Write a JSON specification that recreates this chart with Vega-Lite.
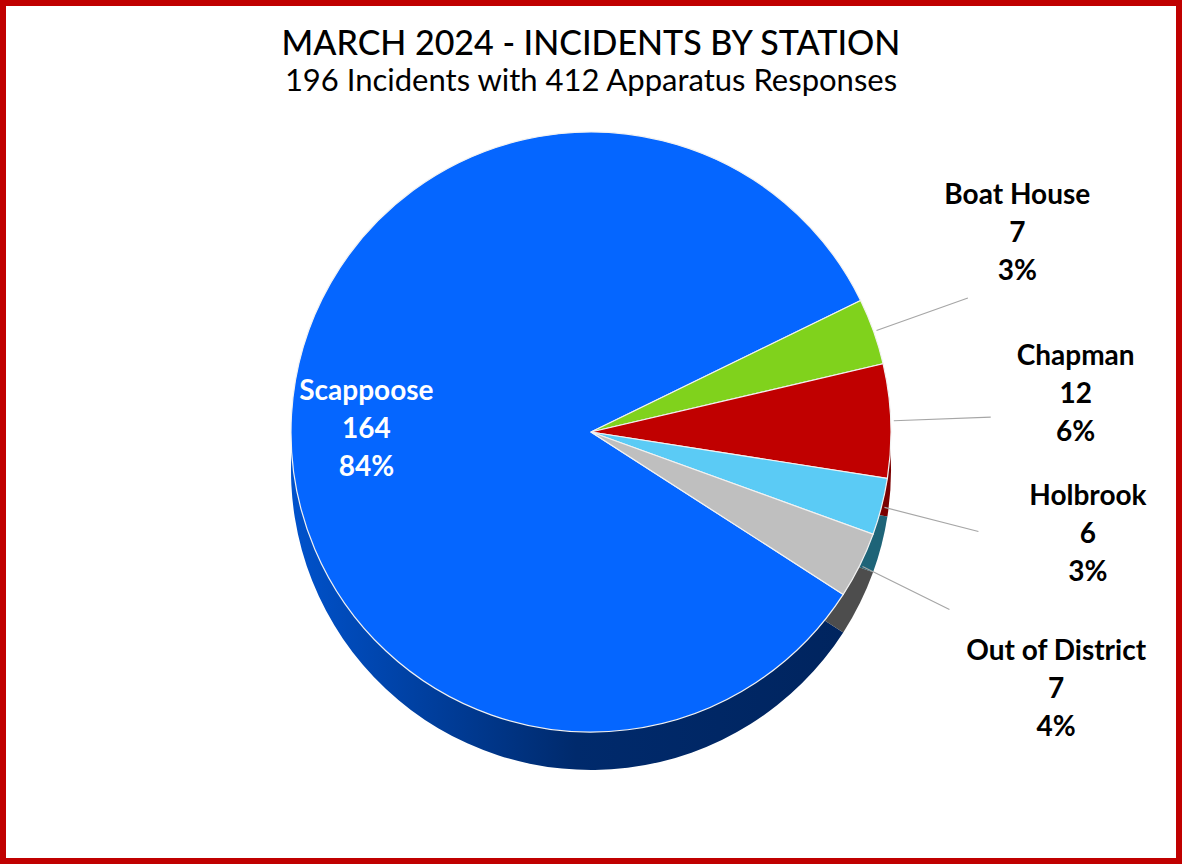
{
  "$schema": "https://vega.github.io/schema/vega-lite/v6.json",
  "width": 1182,
  "height": 864,
  "autosize": {"type": "fit", "contains": "padding"},
  "padding": 0,
  "background": "#FFFFFF",
  "config": {
    "view": {"stroke": null},
    "font": "Lato"
  },
  "title": {
    "text": "MARCH 2024 - INCIDENTS BY STATION",
    "subtitle": "196 Incidents with 412 Apparatus Responses",
    "anchor": "middle",
    "offset": -97,
    "font": "Lato",
    "fontSize": 34,
    "fontWeight": 500,
    "color": "#000000",
    "subtitleFont": "Lato",
    "subtitleFontSize": 31,
    "subtitleFontWeight": 400,
    "subtitleColor": "#000000",
    "subtitlePadding": 5
  },
  "data": {
    "values": [
      {"station": "Scappoose", "count": 164, "label": "Scappoose\n164\n84%"},
      {"station": "Boat House", "count": 7, "label": "Boat House\n7\n3%"},
      {"station": "Chapman", "count": 12, "label": "Chapman\n12\n6%"},
      {"station": "Holbrook", "count": 6, "label": "Holbrook\n6\n3%"},
      {"station": "Out of District", "count": 7, "label": "Out of District\n7\n4%"}
    ]
  },
  "layer": [
    {
      "mark": {"type": "rect", "filled": false, "stroke": "#C00000", "strokeWidth": 6},
      "encoding": {}
    },
    {
      "mark": {"type": "arc", "radius": 300, "yOffset": 38},
      "encoding": {
        "theta": {"field": "count", "type": "quantitative", "stack": true, "scale": {"range": [1.117, 7.4]}},
        "fill": {
          "field": "station",
          "type": "nominal",
          "legend": null,
          "scale": {
            "domain": ["Boat House", "Chapman", "Holbrook", "Out of District", "Scappoose"],
            "range": ["#4F8A12", "#7A0000", "#1E6478", "#4D4D4D", "#00296A"]
          },
          "condition": {
            "test": "datum.station === 'Scappoose'",
            "value": {
              "gradient": "linear",
              "x1": 0, "y1": 0, "x2": 1, "y2": 0,
              "stops": [
                {"offset": 0, "color": "#0052CC"},
                {"offset": 0.5, "color": "#002A6C"},
                {"offset": 1, "color": "#00245E"}
              ]
            }
          }
        }
      }
    },
    {
      "mark": {"type": "arc", "radius": 300, "stroke": "#F2F2F2", "strokeWidth": 1.2},
      "encoding": {
        "theta": {"field": "count", "type": "quantitative", "stack": true, "scale": {"range": [1.117, 7.4]}},
        "color": {
          "field": "station",
          "type": "nominal",
          "legend": null,
          "scale": {
            "domain": ["Boat House", "Chapman", "Holbrook", "Out of District", "Scappoose"],
            "range": ["#80D21C", "#C00000", "#5BCBF5", "#BFBFBF", "#0566FF"]
          }
        }
      }
    },
    {
      "mark": {"type": "arc", "radius": 400, "radius2": 303, "padAngle": 1.0, "fillOpacity": 0, "stroke": "#A6A6A6", "strokeWidth": 1.2},
      "encoding": {
        "theta": {"field": "count", "type": "quantitative", "stack": true, "scale": {"range": [1.117, 7.4]}},
        "detail": {"field": "station", "type": "nominal"},
        "strokeOpacity": {"condition": {"test": "datum.station === 'Scappoose'", "value": 0}, "value": 1}
      }
    },
    {
      "mark": {"type": "text", "radius": 480, "dx": -26, "dy": -75, "lineBreak": "\n", "lineHeight": 38, "font": "Lato", "fontSize": 28, "fontWeight": "bold", "color": "#000000", "align": "center", "baseline": "middle"},
      "encoding": {
        "theta": {"field": "count", "type": "quantitative", "stack": true, "scale": {"range": [1.117, 7.4]}},
        "detail": {"field": "station", "type": "nominal"},
        "text": {"field": "label", "type": "nominal", "condition": {"test": "datum.station !== 'Boat House'", "value": ""}}
      }
    },
    {
      "mark": {"type": "text", "radius": 480, "dx": 5, "dy": -57, "lineBreak": "\n", "lineHeight": 38, "font": "Lato", "fontSize": 28, "fontWeight": "bold", "color": "#000000", "align": "center", "baseline": "middle"},
      "encoding": {
        "theta": {"field": "count", "type": "quantitative", "stack": true, "scale": {"range": [1.117, 7.4]}},
        "detail": {"field": "station", "type": "nominal"},
        "text": {"field": "label", "type": "nominal", "condition": {"test": "datum.station !== 'Chapman'", "value": ""}}
      }
    },
    {
      "mark": {"type": "text", "radius": 480, "dx": 32, "dy": -54, "lineBreak": "\n", "lineHeight": 38, "font": "Lato", "fontSize": 28, "fontWeight": "bold", "color": "#000000", "align": "center", "baseline": "middle"},
      "encoding": {
        "theta": {"field": "count", "type": "quantitative", "stack": true, "scale": {"range": [1.117, 7.4]}},
        "detail": {"field": "station", "type": "nominal"},
        "text": {"field": "label", "type": "nominal", "condition": {"test": "datum.station !== 'Holbrook'", "value": ""}}
      }
    },
    {
      "mark": {"type": "text", "radius": 480, "dx": 35, "dy": 7, "lineBreak": "\n", "lineHeight": 38, "font": "Lato", "fontSize": 28, "fontWeight": "bold", "color": "#000000", "align": "center", "baseline": "middle"},
      "encoding": {
        "theta": {"field": "count", "type": "quantitative", "stack": true, "scale": {"range": [1.117, 7.4]}},
        "detail": {"field": "station", "type": "nominal"},
        "text": {"field": "label", "type": "nominal", "condition": {"test": "datum.station !== 'Out of District'", "value": ""}}
      }
    },
    {
      "mark": {"type": "text", "radius": 225, "dy": -27, "lineBreak": "\n", "lineHeight": 38, "font": "Lato", "fontSize": 28, "fontWeight": "bold", "color": "#FFFFFF", "align": "center", "baseline": "middle"},
      "encoding": {
        "theta": {"field": "count", "type": "quantitative", "stack": true, "scale": {"range": [1.117, 7.4]}},
        "detail": {"field": "station", "type": "nominal"},
        "text": {"field": "label", "type": "nominal", "condition": {"test": "datum.station !== 'Scappoose'", "value": ""}}
      }
    }
  ]
}
